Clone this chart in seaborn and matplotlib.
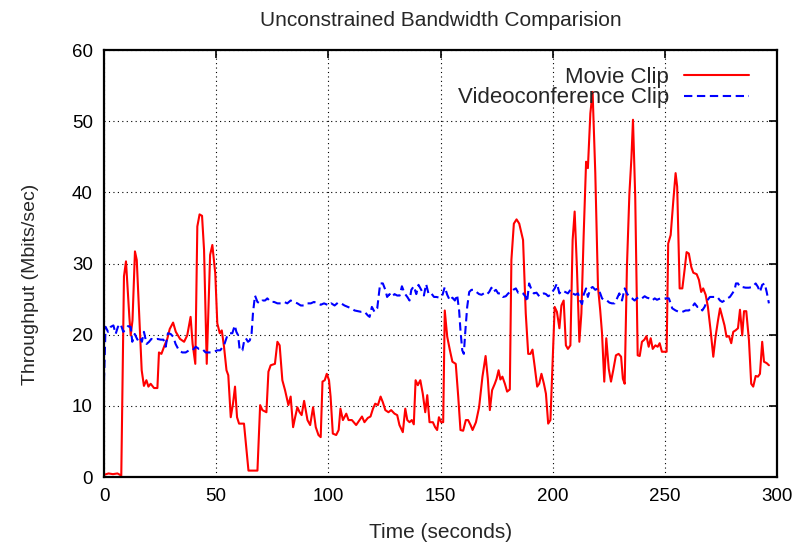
import numpy as np
import pandas as pd
import matplotlib
matplotlib.use("Agg")
import matplotlib.pyplot as plt
import seaborn as sns

# ---------------- data ----------------
movie_t = [0, 2, 4, 6, 7.7, 8.9, 9.8, 11.3, 11.9, 12.7, 13.8, 14.6, 16, 16.8, 17.8, 18.9, 19.8, 20.8,
           22.3, 23.8, 24.5, 25.6, 27, 28.2, 29.3, 30.8, 32, 33.9, 35.7, 37.1, 38.6, 39.5, 40.7, 41.6,
           42.6, 43.7, 44.6, 45.8, 47.3, 48.3, 49.6, 50.5, 51.6, 52.5, 53.5, 54.6, 55.4, 56.5, 57.5,
           58.4, 59.3, 60.2, 62.4, 64.4, 68.4, 69.6, 70.6, 72.4, 73.3, 74.3, 76.2, 77.3, 78.3, 79.5,
           80.7, 82.2, 83.2, 84.3, 85.2, 86.2, 87.2, 88.1, 89.2, 90.7, 91.9, 93.2, 94.4, 95.6, 96.6,
           97.4, 98.4, 99.3, 100.3, 101, 102, 103.5, 104.6, 105.4, 106.5, 108, 109, 110.5, 112.4,
           113.9, 115, 116.1, 117.6, 118.8, 119.9, 120.9, 122.1, 123.3, 124.3, 125.4, 126.8, 128,
           129.5, 130.7, 131.7, 133.2, 134.3, 135.2, 136.2, 137.2, 138.1, 138.9, 139.9, 141, 142.1,
           143.2, 144.1, 145.1, 146.6, 147.6, 148.5, 149.3, 150.3, 151.2, 151.9, 153, 154.2, 155.3,
           156.8, 157.9, 158.9, 160.1, 161.3, 162.3, 163.4, 164.3, 165.8, 167.2, 168.7, 170.1, 171.1,
           172, 173, 174.2, 175, 175.9, 176.7, 177.6, 178.7, 179.7, 180.9, 181.6, 182.7, 183.9, 185.1,
           186.8, 188, 189.1, 190.1, 191, 192, 193.1, 194, 195, 196.1, 197, 198, 199, 200.9, 201.9,
           203, 203.9, 204.9, 205.9, 206.8, 207.9, 208.9, 209.8, 210.8, 211.9, 212.8, 213.8, 214.9,
           215.7, 216.8, 217.8, 219, 220.2, 221.2, 222, 223, 223.9, 225, 226, 227, 228.2, 229.4,
           230.5, 231.3, 232.1, 233.1, 234.2, 235.1, 235.8, 236.8, 237.9, 238.8, 239.8, 240.9, 241.8,
           242.8, 243.7, 244.6, 245.8, 246.8, 247.7, 248.7, 250.2, 250.8, 251.5, 252.6, 253.8, 254.8,
           255.5, 256.6, 257.8, 258.8, 259.7, 260.7, 261.8, 262.7, 264.2, 265.2, 266.2, 267.1, 268.2,
           269.2, 270.4, 271.6, 272.6, 273.7, 274.6, 275.6, 276.6, 277.5, 278.6, 279.6, 280.5, 281.5,
           282.6, 283.5, 284.5, 285.3, 286.3, 287.5, 288.5, 289.4, 290.5, 291.5, 292.4, 293.4, 294.2,
           295.4, 296.4]
movie_v = [0.3, 0.5, 0.4, 0.5, 0.2, 28.2, 30.3, 22.5, 19.9, 22, 31.7, 30.5, 20.6, 15, 12.8, 13.6, 12.7,
           13.1, 12.5, 12.5, 17.5, 17.3, 18.5, 19.4, 20.8, 21.7, 20.4, 19.4, 19, 19.9, 22.5, 18.7, 15.9,
           35.2, 36.9, 36.7, 31.9, 15.9, 31.2, 32.6, 28.6, 21.6, 20.2, 20.6, 18.3, 15, 14.3, 8.4, 10.3,
           12.7, 8.4, 7.5, 7.5, 0.9, 0.9, 10.1, 9.4, 9.1, 14.8, 15.7, 15.9, 19, 18.5, 13.6, 12.2, 10.1,
           11.3, 7, 8.4, 9.8, 9.1, 8.7, 10.7, 8, 7.3, 9.8, 7, 5.9, 5.6, 13.4, 13.6, 14.5, 13.6, 11.3,
           6.1, 5.9, 6.6, 9.6, 8, 8.9, 8, 8, 7.3, 8, 8.5, 7.7, 8.3, 8.5, 9.6, 10.3, 10.1, 11.3, 10.5,
           9.4, 9.1, 9.4, 8.9, 8.7, 7.3, 6.3, 9.6, 8, 7.7, 8, 7.4, 13.6, 12.9, 13.6, 11.7, 9.1, 11.5,
           7.7, 7.7, 7, 6.6, 8.4, 7.7, 7.7, 23.4, 19.7, 17.8, 16.2, 15.9, 11.3, 6.6, 6.5, 8, 8, 7.3,
           6.6, 7.7, 9.8, 14.1, 17, 13.8, 9.4, 12.2, 13.1, 13.8, 15, 13.7, 14.1, 13.1, 12, 12.3, 30.5,
           35.6, 36.2, 35.6, 33.3, 23, 17.3, 17.3, 17.9, 15.5, 12.7, 13.1, 14.5, 13.1, 11.7, 7.5, 8,
           23.9, 23.2, 20.9, 24.1, 24.8, 18.5, 18, 18.5, 33.3, 37.3, 29.5, 19, 23, 33.8, 44.3, 43.4,
           51.1, 54.1, 42.7, 26.7, 23.4, 20.2, 13.4, 19.5, 15.2, 13.4, 15, 17.1, 17.3, 16.9, 13.8,
           13.1, 29.5, 39.8, 44.8, 50.2, 39.4, 17.1, 17, 19, 19.3, 19.8, 18.3, 19.5, 18, 18.5, 18.3,
           18.8, 17.6, 17.6, 17.6, 32.8, 34, 38.9, 42.7, 40.8, 26.5, 26.5, 29.1, 31.6, 31.4, 29.5,
           28.7, 28.5, 27.7, 26, 26.5, 25.6, 23.9, 20.6, 16.9, 19.7, 22, 23.7, 22.5, 21.3, 19.7, 19.8,
           18.8, 20.4, 20.6, 20.9, 23.5, 19.9, 23.3, 23.3, 19.2, 13.1, 12.7, 14.2, 14.1, 14.5, 19,
           16.2, 16, 15.7]

video_t = [0, 0.7, 1.8, 3, 4.2, 5.2, 6.2, 7.4, 8.6, 9.7, 10.7, 11.9, 12.6, 13.7, 14.9, 16, 16.9, 17.8,
           19, 20.1, 21.1, 22.3, 23.8, 25.3, 26.5, 27.5, 28.5, 29.7, 30.9, 31.9, 33.4, 34.9, 36.4,
           37.9, 39.4, 40.9, 42.3, 43.8, 45.3, 46.8, 48.3, 50.5, 51.8, 53.5, 55, 56, 57.2, 58.3, 59,
           59.8, 60.5, 61.7, 62.4, 63.2, 64.2, 65, 65.8, 66.4, 67.3, 68.4, 69.4, 70.6, 71.8, 72.8,
           74.3, 75.8, 77.3, 78.8, 80.3, 81.7, 83.2, 84.7, 86.2, 87.7, 89.2, 90.7, 92.2, 93.6, 95.1,
           96.6, 98.1, 100.3, 101.3, 102.8, 104.3, 105.7, 107.2, 108.7, 110.2, 111.7, 113.2, 114.7,
           116.2, 117.6, 118.4, 119.4, 120.6, 121.8, 122.4, 123.1, 124.3, 125.4, 126.2, 127.3, 128.3,
           129.5, 130.7, 131.8, 132.8, 134, 135.2, 136.2, 137, 138.1, 139.2, 140.2, 141.4, 142.6,
           143.6, 144.7, 145.9, 147.1, 148.1, 149.6, 150.9, 151.9, 153, 154.2, 155.3, 156.4, 157.4,
           158.3, 158.9, 159.7, 160.4, 161, 161.9, 162.8, 163.8, 164.9, 166, 167.2, 168.3, 169.3,
           170.5, 171.7, 172.7, 173.5, 174.7, 175.7, 176.8, 177.9, 179.1, 180.2, 181.2, 182.4, 183.6,
           184.6, 185.7, 186.8, 188, 188.6, 189.5, 190.6, 191.6, 192.8, 194, 195, 196.1, 197, 198, 199,
           200.9, 201.9, 203, 204.2, 205.6, 206.8, 207.9, 208.9, 210.1, 211.3, 212.2, 213.1, 213.8,
           214.9, 215.7, 216.8, 217.8, 219, 220.2, 221.2, 222, 223.2, 224.2, 225.3, 226.4, 227.6,
           228.7, 229.7, 230.9, 232.1, 233.1, 234.2, 235.4, 236.5, 237.5, 238.6, 239.8, 241, 242,
           243.1, 244.3, 245.5, 246.5, 248, 249.6, 250.8, 251.8, 252.6, 253.3, 254.8, 256.3, 257.8,
           259.3, 260.7, 262.2, 263.3, 264.5, 265.6, 266.7, 267.7, 268.9, 270.1, 271.2, 272.3, 273.4,
           274.6, 275.6, 276.6, 277.8, 279, 280.1, 281.1, 281.7, 282.6, 283.5, 284.5, 286, 287.5, 289,
           290.5, 291.5, 292.4, 293.4, 294.5, 295.4, 296.4]
video_v = [13.5, 21.1, 20.4, 21.1, 21.3, 20.1, 21.1, 21.5, 20.4, 20.8, 21.2, 21.1, 19, 20.1, 19.3,
           19.7, 19, 20.4, 18.7, 19, 19.4, 19.3, 19.4, 19.3, 19.3, 18.3, 20.2, 20.1, 19.7, 18.7, 17.8,
           17.5, 17.5, 17.8, 17.8, 18.3, 18, 18, 17.5, 17.5, 17.5, 17.8, 17.8, 18.5, 19.9, 20.2, 20.2,
           21.3, 20.4, 19.9, 17.8, 17.8, 19, 19.5, 19, 19.2, 20.2, 23, 25.5, 24.6, 24.4, 24.8, 24.8,
           25.1, 24.6, 24.6, 24.4, 24.4, 24.6, 24.4, 24.8, 24.6, 24.4, 24.1, 24.1, 24.4, 24.4, 24.6,
           24.4, 24.2, 24.4, 24.1, 24.4, 24.1, 24.5, 24.4, 24.1, 23.9, 23.7, 23.4, 23.3, 23.2, 23.2,
           22.7, 22.5, 23.9, 23.2, 23.7, 25.3, 27.2, 27.2, 26.3, 25.3, 25.7, 25.3, 25.7, 25.5, 25.5,
           26.8, 25.8, 25.3, 24.8, 26.3, 26.8, 25.7, 27, 26.3, 25.5, 27.1, 25.7, 25.8, 25.3, 25.3,
           25.2, 25.6, 26.7, 25.6, 24.8, 25.2, 24.8, 25.6, 23.4, 20.6, 17.8, 17.3, 20.2, 23.9, 26,
           26.3, 26.3, 26, 25.7, 25.6, 25.8, 25.6, 26, 26.6, 26, 26.3, 25.8, 25.8, 25.3, 25.4, 25.8,
           26, 26.3, 26.5, 25.9, 26, 25.8, 25.3, 24.6, 27.2, 26.3, 25.8, 25.9, 25.4, 25.7, 25.8, 25.7,
           25.4, 25.6, 26.5, 27.2, 25.8, 26.2, 26, 25.8, 26.3, 25.8, 25.6, 25.8, 24.8, 24.3, 25.6,
           26.5, 25.3, 26.5, 26.7, 26.3, 26.5, 25.8, 25.1, 24.8, 24.8, 24.5, 24.4, 24.4, 25.1, 25.8,
           24.8, 26.5, 25.8, 25.3, 25.1, 24.8, 25.1, 25.3, 25.1, 25.4, 25.2, 25.1, 24.8, 25.1, 24.9,
           25.1, 25.1, 25.1, 25.1, 24.4, 23.7, 23.4, 23.2, 23.2, 23.4, 23.4, 23.9, 24.4, 23.9, 23.9,
           23.4, 23.9, 24.8, 25.3, 25.3, 25.3, 25.3, 24.8, 24.6, 24.8, 25.1, 25.3, 25.8, 26.3, 27.2,
           27.2, 26.7, 26.7, 26.6, 26.6, 26.7, 27.2, 26.7, 26, 27, 27.2, 26, 24.4]

title = "Unconstrained Bandwidth Comparision"
xlabel = "Time (seconds)"
ylabel = "Throughput (Mbits/sec)"
labels = ["Movie Clip", "Videoconference Clip"]
x_ticks = [0, 50, 100, 150, 200, 250, 300]
y_ticks = [0, 10, 20, 30, 40, 50, 60]

# ---------------- plotting ----------------
sns.set_style("white")
plt.rcParams["font.family"] = ["Liberation Sans", "DejaVu Sans"]
FS = 13.5

df = pd.concat([
    pd.DataFrame({"t": movie_t, "v": movie_v, "series": labels[0]}),
    pd.DataFrame({"t": video_t, "v": video_v, "series": labels[1]}),
])

fig = plt.figure(figsize=(7.99, 5.48), dpi=100)
ax = fig.add_axes([104 / 799, 1 - 477 / 548, 673 / 799, 427 / 548])

sns.lineplot(data=df[df.series == labels[0]], x="t", y="v", ax=ax, color="#ff0000",
             linewidth=1.5, label=labels[0], estimator=None, sort=False)
sns.lineplot(data=df[df.series == labels[1]], x="t", y="v", ax=ax, color="#0000ff",
             linewidth=1.5, label=labels[1], estimator=None, sort=False)
ax.lines[1].set_dashes([4, 2.2])

ax.set_xlim(0, 300)
ax.set_ylim(0, 60)
ax.set_xticks(x_ticks)
ax.set_yticks(y_ticks)
ax.tick_params(axis="both", which="major", direction="in", length=6, width=1.2,
               top=True, right=True, labelsize=FS, pad=8, colors="black")
ax.grid(True, color="black", linestyle=(0, (1, 3)), linewidth=0.8)
for s in ax.spines.values():
    s.set_linewidth(1.6)
    s.set_color("black")

ax.set_xlabel(xlabel, fontsize=15, labelpad=13)
ax.set_ylabel(ylabel, fontsize=14)
ax.yaxis.set_label_coords(-0.096, 0.45)
ax.set_title(title, fontsize=15, pad=17)

leg = ax.legend(loc="upper right", bbox_to_anchor=(0.958, 0.960), frameon=False,
                fontsize=16, markerfirst=False, handlelength=2.9, handletextpad=0.68,
                labelspacing=-0.03, borderaxespad=0, borderpad=0)
leg.get_lines()[1].set_dashes([4, 2.2])

# right-justify the legend texts (gnuplot style), measuring the actual shift
fig.canvas.draw()
renderer = fig.canvas.get_renderer()
texts = leg.get_texts()
ext = [t.get_window_extent(renderer) for t in texts]
target = max(e.x1 for e in ext)
for t, e in zip(texts, ext):
    need = target - e.x1
    if need <= 0.5:
        continue
    x0, y0 = t.get_position()
    t.set_position((x0 + 10.0, y0))
    fig.canvas.draw()
    moved = t.get_window_extent(renderer).x1 - e.x1
    scale = moved / 10.0 if abs(moved) > 1e-6 else 1.0
    t.set_position((x0 + need / scale, y0))

fig.savefig("out.png", dpi=100)
